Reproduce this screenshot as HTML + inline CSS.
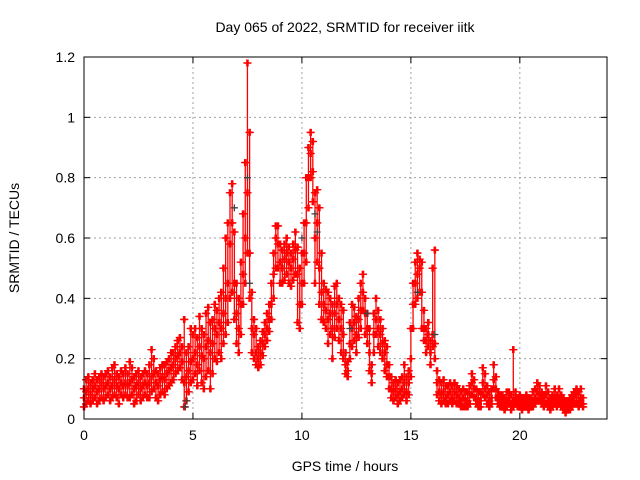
<!DOCTYPE html>
<html><head><meta charset="utf-8"><style>
body{margin:0;background:#fff}
svg{display:block;font-family:"Liberation Sans",sans-serif}
</style></head><body>
<svg id="chart" width="640" height="480">
<rect width="640" height="480" fill="#fff"/>
<g id="grid"></g><g id="pts"></g><g id="axes"></g>
<text x="345" y="32" text-anchor="middle" font-size="14">Day 065 of 2022, SRMTID for receiver iitk</text>
<text x="345" y="471" text-anchor="middle" font-size="14">GPS time / hours</text>
<text transform="translate(19,238) rotate(-90)" text-anchor="middle" font-size="14">SRMTID / TECUs</text>
</svg>
<script>
const times=[0,0.1,0.2,0.3,0.4,0.5,0.6,0.7,0.8,0.9,1,1.1,1.2,1.3,1.4,1.5,1.6,1.7,1.8,1.9,2,2.1,2.2,2.3,2.4,2.5,2.6,2.7,2.8,2.9,3,3.1,3.2,3.3,3.4,3.5,3.6,3.7,3.8,3.9,4,4.1,4.2,4.3,4.4,4.5,4.6,4.7,4.8,4.9,5,5.1,5.2,5.3,5.4,5.5,5.6,5.7,5.8,5.9,6,6.1,6.2,6.3,6.4,6.5,6.6,6.7,6.8,6.9,7,7.1,7.2,7.3,7.4,7.5,7.6,7.7,7.8,7.9,8,8.1,8.2,8.3,8.4,8.5,8.6,8.7,8.8,8.9,9,9.1,9.2,9.3,9.4,9.5,9.6,9.7,9.8,9.9,10,10.1,10.2,10.3,10.4,10.5,10.6,10.7,10.8,10.9,11,11.1,11.2,11.3,11.4,11.5,11.6,11.7,11.8,11.9,12,12.1,12.2,12.3,12.4,12.5,12.6,12.7,12.8,12.9,13,13.1,13.2,13.3,13.4,13.5,13.6,13.7,13.8,13.9,14,14.1,14.2,14.3,14.4,14.5,14.6,14.7,14.8,14.9,15,15.1,15.2,15.3,15.4,15.5,15.6,15.7,15.8,15.9,16,16.1,16.2,16.3,16.4,16.5,16.6,16.7,16.8,16.9,17,17.1,17.2,17.3,17.4,17.5,17.6,17.7,17.8,17.9,18,18.1,18.2,18.3,18.4,18.5,18.6,18.7,18.8,18.9,19,19.1,19.2,19.3,19.4,19.5,19.6,19.7,19.8,19.9,20,20.1,20.2,20.3,20.4,20.5,20.6,20.7,20.8,20.9,21,21.1,21.2,21.3,21.4,21.5,21.6,21.7,21.8,21.9,22,22.1,22.2,22.3,22.4,22.5,22.6,22.7,22.8,22.9];
const midVals=[.07,.09,.10,.08,.10,.11,.09,.10,.12,.10,.11,.12,.10,.11,.13,.11,.10,.12,.11,.12,.11,.12,.13,.10,.11,.12,.10,.11,.12,.11,.12,.14,.15,.12,.11,.13,.14,.13,.15,.16,.17,.18,.20,.21,.22,.19,.12,.14,.16,.19,.20,.22,.18,.24,.21,.20,.24,.26,.22,.25,.30,.28,.32,.30,.35,.40,.45,.58,.65,.45,.35,.30,.38,.48,.60,.75,.55,.30,.28,.22,.20,.22,.25,.28,.30,.33,.38,.48,.60,.58,.52,.50,.53,.55,.52,.50,.53,.56,.48,.38,.45,.55,.65,.80,.88,.82,.60,.65,.50,.42,.38,.36,.33,.35,.30,.35,.38,.33,.30,.28,.18,.16,.25,.30,.32,.28,.33,.36,.42,.35,.30,.22,.15,.28,.33,.30,.28,.25,.22,.18,.14,.10,.09,.10,.08,.09,.10,.12,.09,.12,.20,.38,.45,.48,.50,.42,.30,.26,.28,.22,.28,.25,.12,.09,.08,.09,.07,.08,.09,.07,.09,.08,.07,.06,.07,.06,.06,.08,.12,.10,.07,.06,.06,.12,.10,.08,.06,.07,.13,.10,.07,.06,.06,.05,.06,.07,.05,.06,.07,.05,.06,.05,.05,.06,.05,.05,.06,.07,.09,.08,.07,.06,.08,.06,.05,.06,.07,.06,.07,.06,.05,.04,.04,.05,.06,.07,.08,.06,.07,.05];
const loVals=[.04,.05,.06,.05,.06,.07,.05,.06,.07,.06,.07,.08,.06,.07,.08,.07,.05,.08,.07,.08,.07,.07,.08,.05,.06,.08,.06,.07,.08,.07,.07,.09,.10,.07,.06,.08,.09,.08,.10,.11,.12,.13,.15,.16,.17,.13,.04,.06,.09,.12,.13,.15,.11,.16,.12,.10,.14,.16,.10,.15,.20,.19,.22,.20,.25,.28,.32,.40,.42,.33,.25,.22,.28,.38,.45,.55,.40,.22,.20,.18,.17,.18,.21,.24,.26,.29,.33,.40,.50,.50,.45,.45,.46,.48,.45,.44,.46,.48,.32,.30,.38,.45,.52,.70,.80,.72,.45,.52,.38,.33,.32,.30,.25,.28,.20,.27,.30,.26,.22,.20,.15,.14,.20,.24,.26,.22,.27,.30,.36,.28,.25,.16,.12,.22,.28,.24,.22,.20,.16,.14,.10,.07,.06,.07,.05,.06,.07,.08,.06,.08,.14,.30,.38,.40,.42,.30,.26,.22,.24,.18,.24,.20,.08,.06,.05,.06,.05,.05,.06,.05,.06,.05,.05,.04,.04,.04,.04,.05,.08,.07,.05,.04,.04,.08,.07,.05,.04,.05,.10,.07,.05,.04,.04,.03,.04,.05,.03,.04,.05,.04,.04,.03,.04,.04,.03,.04,.04,.05,.06,.06,.05,.04,.05,.04,.03,.04,.05,.04,.05,.04,.03,.02,.03,.03,.04,.05,.05,.04,.05,.04];
const hiVals=[.10,.13,.14,.12,.13,.15,.13,.14,.15,.14,.15,.16,.14,.17,.18,.15,.14,.16,.15,.17,.15,.19,.17,.14,.15,.16,.14,.15,.16,.15,.18,.23,.20,.16,.15,.17,.18,.18,.19,.20,.22,.22,.24,.26,.27,.24,.33,.22,.24,.30,.28,.30,.27,.34,.30,.28,.35,.37,.32,.33,.38,.36,.40,.42,.50,.60,.65,.75,.78,.62,.45,.40,.52,.68,.85,1.18,.95,.42,.33,.30,.24,.26,.29,.32,.35,.38,.45,.55,.64,.64,.58,.56,.58,.60,.57,.55,.58,.62,.57,.50,.55,.65,.80,.90,.95,.92,.75,.76,.70,.55,.45,.43,.42,.40,.38,.44,.45,.40,.38,.36,.22,.19,.32,.38,.37,.34,.40,.45,.48,.40,.35,.30,.18,.35,.40,.36,.33,.30,.26,.24,.18,.14,.12,.13,.12,.13,.14,.18,.14,.16,.30,.45,.52,.55,.53,.52,.36,.30,.32,.26,.50,.56,.16,.13,.12,.13,.11,.11,.12,.11,.12,.11,.10,.09,.10,.09,.09,.11,.15,.13,.10,.09,.09,.17,.15,.11,.09,.10,.18,.14,.09,.08,.08,.07,.09,.09,.08,.23,.09,.07,.08,.07,.07,.08,.07,.07,.09,.10,.12,.11,.09,.08,.11,.09,.07,.08,.10,.08,.10,.08,.07,.06,.06,.07,.08,.09,.10,.09,.10,.07];
const blackTimes=[4.65,4.7,6.9,7.5,7.6,10.0,10.6,10.7,12.2,13.0,15.3,16.1];
const blackVals=[.04,.06,.70,.80,.45,.60,.68,.62,.30,.35,.42,.28];
const xTicks=[0,5,10,15,20];
const yTicks=[0,0.2,0.4,0.6,0.8,1,1.2];
const yTickLabels=["0","0.2","0.4","0.6","0.8","1","1.2"];

const L=84,R=607,T=57,B=419;
const xs=v=>L+(v/24)*(R-L);
const ys=v=>B-(v/1.2)*(B-T);
const NS='http://www.w3.org/2000/svg';
function mk(tag,attrs,parent){const e=document.createElementNS(NS,tag);for(const k in attrs)e.setAttribute(k,attrs[k]);parent.appendChild(e);return e;}
const grid=document.getElementById('grid'),pts=document.getElementById('pts'),axes=document.getElementById('axes');
xTicks.forEach(t=>{
  if(t>0){const g=mk('line',{x1:xs(t),x2:xs(t),y1:T,y2:B,stroke:'#a0a0a0','stroke-dasharray':'2,3'},grid);
  
  }
  mk('line',{x1:xs(t),x2:xs(t),y1:B,y2:B-6,stroke:'#000'},axes);
  mk('line',{x1:xs(t),x2:xs(t),y1:T,y2:T+6,stroke:'#000'},axes);
  const tx=mk('text',{x:xs(t),y:B+21,'text-anchor':'middle','font-size':14},axes);tx.textContent=t;
  
  
});
yTicks.forEach((t,i)=>{
  if(t>0&&t<1.2){const g=mk('line',{x1:L,x2:R,y1:ys(t),y2:ys(t),stroke:'#a0a0a0','stroke-dasharray':'2,3'},grid);
  
  }
  mk('line',{x1:L,x2:L+6,y1:ys(t),y2:ys(t),stroke:'#000'},axes);
  mk('line',{x1:R,x2:R-6,y1:ys(t),y2:ys(t),stroke:'#000'},axes);
  const tx=mk('text',{x:L-9,y:ys(t)+5,'text-anchor':'end','font-size':14},axes);tx.textContent=yTickLabels[i];
  
  
});
const frame=mk('rect',{x:L,y:T,width:R-L,height:B-T,fill:'none',stroke:'#000'},axes);


function plus(x,y,color,name){
  const p=mk('path',{d:`M${x-3.5},${y}h7M${x},${y-3.5}v7`,stroke:color,'stroke-width':1.3,fill:'none'},pts);
  
  
}
const offs=[-0.03,0,0.03];
times.forEach((t,i)=>{
  const r=mk('line',{x1:xs(t),x2:xs(t),y1:ys(loVals[i]),y2:ys(hiVals[i]),stroke:'#ff0000','stroke-width':1.3},pts);
  
  
  offs.forEach(o=>{
    const x=xs(t+o);
    plus(x,ys(loVals[i]),'#ff0000','red-point');
    plus(x,ys(midVals[i]),'#ff0000','red-point');
    plus(x,ys(hiVals[i]),'#ff0000','red-point');
  });
});
blackTimes.forEach((t,i)=>plus(xs(t),ys(blackVals[i]),'#404040','black-point'));
</script>
</body></html>
